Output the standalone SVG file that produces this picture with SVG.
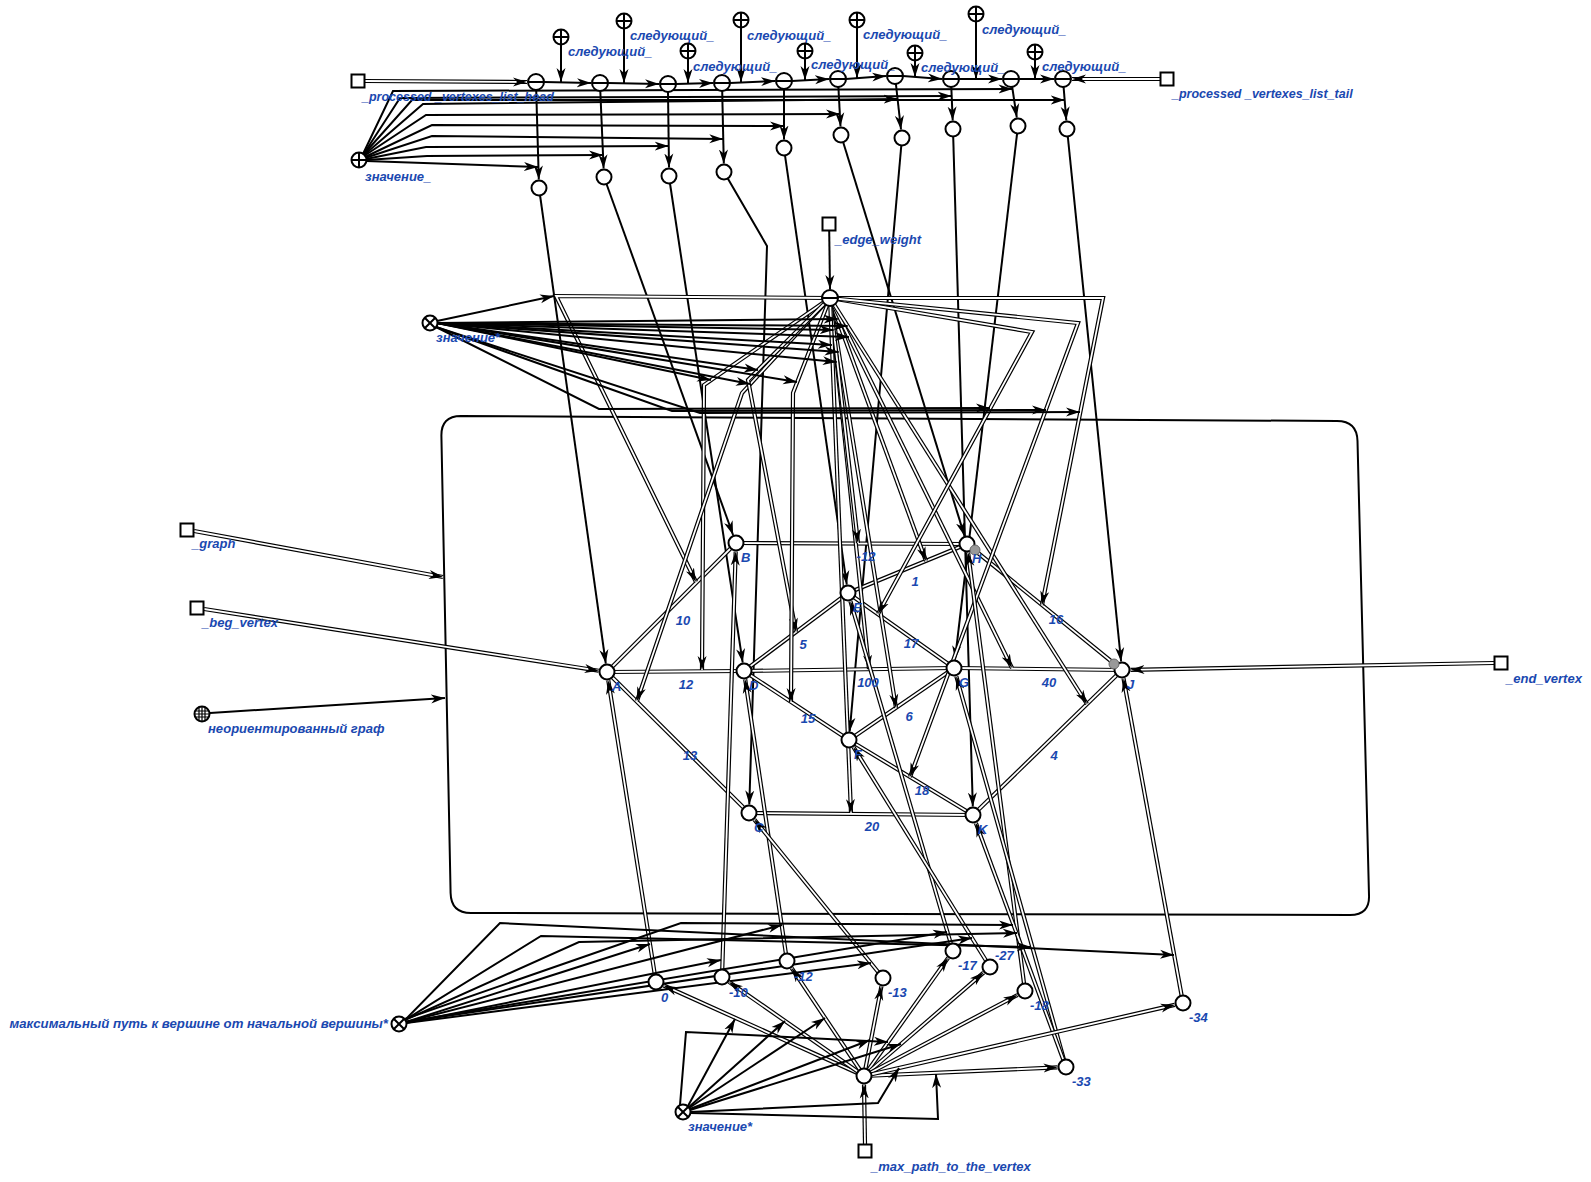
<svg xmlns="http://www.w3.org/2000/svg" width="1591" height="1182" viewBox="0 0 1591 1182">
<style>
.s{fill:none;stroke:#000;stroke-width:2}
.sa{fill:none;stroke:#000;stroke-width:2;marker-end:url(#ah)}
.do{fill:none;stroke:#000;stroke-width:4.2}
.di{fill:none;stroke:#fff;stroke-width:1.8}
.dia{fill:none;stroke:#fff;stroke-width:1.8;marker-end:url(#ah)}
.nd{fill:#fff;stroke:#000;stroke-width:2}
.ln{fill:none;stroke:#000;stroke-width:2}
.gd{fill:#999;stroke:#666;stroke-width:1}
.ct{fill:none;stroke:#000;stroke-width:2}
.t{font-family:"Liberation Sans",Arial,sans-serif;font-size:13px;font-weight:bold;font-style:italic;fill:#1a48b0}
.tm{text-anchor:middle}
.te{text-anchor:end}
</style>
<defs>
<marker id="ah" viewBox="0 0 14 10" refX="14" refY="5" markerWidth="14" markerHeight="10" markerUnits="userSpaceOnUse" orient="auto"><path d="M0,0.5L14,5L0,9.5L4,5Z" fill="#000"/></marker>
<g id="sPlus"><circle r="7.5" class="nd"/><path d="M-7.5,0H7.5M0,-7.5V7.5" class="ln"/></g>
<g id="sMinus"><circle r="8" class="nd"/><path d="M-8,0H8" class="ln"/></g>
<g id="sX"><circle r="7.5" class="nd"/><path d="M-5.3,-5.3L5.3,5.3M-5.3,5.3L5.3,-5.3" class="ln"/></g>
<g id="sSq"><rect x="-6.5" y="-6.5" width="13" height="13" class="nd"/></g>
<g id="sC"><circle r="7.5" class="nd"/></g>
<g id="sGrid"><circle r="7.5" class="nd"/><path d="M-3,-6.8V6.8M0,-7.5V7.5M3,-6.8V6.8M-6.8,-3H6.8M-7.5,0H7.5M-6.8,3H6.8" fill="none" stroke="#000" stroke-width="1.2"/></g>
</defs>
<rect width="1591" height="1182" fill="#fff"/>

<g id="contour"><path class="ct" d="M461,416L1337,421Q1357,421 1357.5,441L1369,895Q1370,915 1350,915L471,913Q451,913 450.6,893L441.4,436Q441,416 461,416Z"/></g>

<g id="connectors">
<g id="chain">
<path class="do" d="M365,81L527,82"/><path class="dia" d="M365,81L527,82"/>
<path class="do" d="M1160,79L1072,79"/><path class="dia" d="M1160,79L1072,79"/>
<path class="sa" d="M544,82L591,83"/>
<path class="sa" d="M608,83L659,84"/>
<path class="sa" d="M676,84L713,83"/>
<path class="sa" d="M730,83L775,81"/>
<path class="sa" d="M792,81L829,79"/>
<path class="sa" d="M846,79L886,76"/>
<path class="sa" d="M903,76L942,79"/>
<path class="sa" d="M959,79L1002,79"/>
<path class="sa" d="M1019,79L1054,79"/>
<path class="sa" d="M561,45L561,82"/>
<path class="sa" d="M624,29L624,83"/>
<path class="sa" d="M688,59L688,83"/>
<path class="sa" d="M741,28L741,82"/>
<path class="sa" d="M805,59L805,80"/>
<path class="sa" d="M857,28L857,78"/>
<path class="sa" d="M915,61L915,77"/>
<path class="sa" d="M976,22L976,79"/>
<path class="sa" d="M1035,60L1035,79"/>
<path class="sa" d="M536.2,90L538.8,179.5"/>
<path class="sa" d="M600.3,91L603.6,168.5"/>
<path class="sa" d="M668,92L669,167.5"/>
<path class="sa" d="M722.2,91L723.8,163.5"/>
<path class="sa" d="M784,89L784,139.5"/>
<path class="sa" d="M838.4,87L840.5,126.5"/>
<path class="sa" d="M895.9,84L901,129.5"/>
<path class="sa" d="M951.3,87L952.7,120.5"/>
<path class="sa" d="M1012.2,87L1016.8,117.6"/>
<path class="sa" d="M1063.6,87L1066.3,120.5"/>
</g>
<g id="value-arrows">
<path class="sa" d="M366,161L538,167"/>
<path class="sa" d="M366,160L427,156L603,155"/>
<path class="sa" d="M366,159L426,147L668.7,146"/>
<path class="sa" d="M365,158L432,136L723.3,139"/>
<path class="sa" d="M365,157L432,125L784,126"/>
<path class="sa" d="M364,156L426,115L840,114"/>
<path class="sa" d="M364,155L423,104L897.6,99"/>
<path class="sa" d="M363,155L400,98L951.7,96"/>
<path class="sa" d="M363,154L393,91L1012.5,89"/>
<path class="sa" d="M363,155L412,100L1064.7,100"/>
</g>
<g id="to-vertices">
<path class="sa" d="M540,195L605.8,663.6"/>
<path class="sa" d="M606.5,184L733.1,535"/>
<path class="sa" d="M670,183.5L742.7,662.6"/>
<path class="sa" d="M727.8,178.5L767,246L749.3,804.5"/>
<path class="sa" d="M785,155.4L846.8,584.6"/>
<path class="sa" d="M843.2,142.2L964.5,535.9"/>
<path class="sa" d="M901.3,145.5L849.7,731.5"/>
<path class="sa" d="M953.2,136.5L972.8,806.5"/>
<path class="sa" d="M1017.1,133.4L955,659.6"/>
<path class="sa" d="M1067.8,136.5L1121.1,661.5"/>
</g>
<path class="sa" d="M829.2,231L830,289"/>
<g id="edges">
<path class="do" d="M607,672L736,543"/><path class="di" d="M607,672L736,543"/>
<path class="do" d="M607,672L744,671"/><path class="di" d="M607,672L744,671"/>
<path class="do" d="M607,672L749,813"/><path class="di" d="M607,672L749,813"/>
<path class="do" d="M736,543L967,544"/><path class="di" d="M736,543L967,544"/>
<path class="do" d="M744,671L848,593"/><path class="di" d="M744,671L848,593"/>
<path class="do" d="M744,671L954,668"/><path class="di" d="M744,671L954,668"/>
<path class="do" d="M744,671L849,740"/><path class="di" d="M744,671L849,740"/>
<path class="do" d="M848,593L967,544"/><path class="di" d="M848,593L967,544"/>
<path class="do" d="M848,593L954,668"/><path class="di" d="M848,593L954,668"/>
<path class="do" d="M954,668L1122,670"/><path class="di" d="M954,668L1122,670"/>
<path class="do" d="M967,544L1122,670"/><path class="di" d="M967,544L1122,670"/>
<path class="do" d="M849,740L954,668"/><path class="di" d="M849,740L954,668"/>
<path class="do" d="M849,740L973,815"/><path class="di" d="M849,740L973,815"/>
<path class="do" d="M749,813L973,815"/><path class="di" d="M749,813L973,815"/>
<path class="do" d="M1122,670L973,815"/><path class="di" d="M1122,670L973,815"/>
</g>
<g id="weight-arcs">
<path class="do" d="M830,298L556,296L696,582"/><path class="dia" d="M830,298L556,296L696,582"/>
<path class="do" d="M830,298L704,385L702,670"/><path class="dia" d="M830,298L704,385L702,670"/>
<path class="do" d="M830,298L742,393L637,701"/><path class="dia" d="M830,298L742,393L637,701"/>
<path class="do" d="M830,298L748,380L796,632"/><path class="dia" d="M830,298L748,380L796,632"/>
<path class="do" d="M830,298L793,393L791,702"/><path class="dia" d="M830,298L793,393L791,702"/>
<path class="do" d="M830,298L869,669"/><path class="dia" d="M830,298L869,669"/>
<path class="do" d="M830,298L896,708"/><path class="dia" d="M830,298L896,708"/>
<path class="do" d="M830,298L926,561"/><path class="dia" d="M830,298L926,561"/>
<path class="do" d="M830,298L858,543"/><path class="dia" d="M830,298L858,543"/>
<path class="do" d="M830,298L851,813"/><path class="dia" d="M830,298L851,813"/>
<path class="do" d="M830,298L1012,668"/><path class="dia" d="M830,298L1012,668"/>
<path class="do" d="M830,298L1087,704"/><path class="dia" d="M830,298L1087,704"/>
<path class="do" d="M830,298L1103,298L1042,605"/><path class="dia" d="M830,298L1103,298L1042,605"/>
<path class="do" d="M830,298L1032,332L878,614"/><path class="dia" d="M830,298L1032,332L878,614"/>
<path class="do" d="M830,298L1078,323L910,777"/><path class="dia" d="M830,298L1078,323L910,777"/>
</g>
<g id="weight-value-arrows">
<path class="sa" d="M437,321L554,296"/>
<path class="sa" d="M437,323L711,380"/>
<path class="sa" d="M437,323L750,384"/>
<path class="sa" d="M437,323L758,370"/>
<path class="sa" d="M437,323L797,382"/>
<path class="sa" d="M437,323L836.7,362"/>
<path class="sa" d="M437,323L838.7,352"/>
<path class="sa" d="M437,323L837.7,319"/>
<path class="sa" d="M437,323L833.6,330"/>
<path class="sa" d="M437,323L831.9,345"/>
<path class="sa" d="M437,323L849,337"/>
<path class="sa" d="M437,323L847.7,326"/>
<path class="sa" d="M436,327L599,409L990,408"/>
<path class="sa" d="M436,327L672,411L1046,410"/>
<path class="sa" d="M436,327L700,413L1080,412"/>
</g>
<g id="inputs">
<path class="do" d="M194,531L443,577"/><path class="dia" d="M194,531L443,577"/>
<path class="do" d="M204,609L598.6,670.7"/><path class="dia" d="M204,609L598.6,670.7"/>
<path class="sa" d="M210,713L445,698"/>
<path class="do" d="M1494,663L1130.5,669.8"/><path class="dia" d="M1494,663L1130.5,669.8"/>
</g>
<g id="value-vertex-arcs">
<path class="do" d="M656,982L608.3,680.4"/><path class="dia" d="M656,982L608.3,680.4"/>
<path class="do" d="M722,977L735.7,551.5"/><path class="dia" d="M722,977L735.7,551.5"/>
<path class="do" d="M787,961L745.2,679.4"/><path class="dia" d="M787,961L745.2,679.4"/>
<path class="do" d="M883,978L754.4,819.6"/><path class="dia" d="M883,978L754.4,819.6"/>
<path class="do" d="M953,951L850.4,601.2"/><path class="dia" d="M953,951L850.4,601.2"/>
<path class="do" d="M990,967L853.5,747.2"/><path class="dia" d="M990,967L853.5,747.2"/>
<path class="do" d="M1025,991L968.1,552.4"/><path class="dia" d="M1025,991L968.1,552.4"/>
<path class="do" d="M1066,1067L956.3,676.2"/><path class="dia" d="M1066,1067L956.3,676.2"/>
<path class="do" d="M1066,1067L975.9,823"/><path class="dia" d="M1066,1067L975.9,823"/>
<path class="do" d="M1183,1003L1123.5,678.4"/><path class="dia" d="M1183,1003L1123.5,678.4"/>
</g>
<g id="max-path-arrows">
<path class="sa" d="M405,1019L681,923L1013,925"/>
<path class="sa" d="M405,1020L579,942L1017,933"/>
<path class="sa" d="M405,1020L541,936L1031,947"/>
<path class="sa" d="M405,1020L500,923L1174,955"/>
<path class="sa" d="M406,1022L947,932"/>
<path class="sa" d="M406,1022L972,938"/>
<path class="sa" d="M406,1022L782,925"/>
<path class="sa" d="M406,1023L721,960"/>
<path class="sa" d="M406,1023L871,963"/>
<path class="sa" d="M406,1022L650,944"/>
</g>
<g id="center-arcs">
<path class="do" d="M864,1076L663.7,985.5"/><path class="dia" d="M864,1076L663.7,985.5"/>
<path class="do" d="M864,1076L729,981.9"/><path class="dia" d="M864,1076L729,981.9"/>
<path class="do" d="M864,1076L791.7,968.1"/><path class="dia" d="M864,1076L791.7,968.1"/>
<path class="do" d="M864,1076L881.4,986.3"/><path class="dia" d="M864,1076L881.4,986.3"/>
<path class="do" d="M864,1076L948.1,957.9"/><path class="dia" d="M864,1076L948.1,957.9"/>
<path class="do" d="M864,1076L983.6,972.6"/><path class="dia" d="M864,1076L983.6,972.6"/>
<path class="do" d="M864,1076L1017.5,995"/><path class="dia" d="M864,1076L1017.5,995"/>
<path class="do" d="M864,1076L1057.5,1067.4"/><path class="dia" d="M864,1076L1057.5,1067.4"/>
<path class="do" d="M864,1076L1174.7,1004.9"/><path class="dia" d="M864,1076L1174.7,1004.9"/>
<path class="do" d="M865,1144L864,1084.5"/><path class="dia" d="M865,1144L864,1084.5"/>
</g>
<g id="center-value-arrows">
<path class="sa" d="M688,1106L735,1019"/>
<path class="sa" d="M689,1107L785,1021"/>
<path class="sa" d="M689,1108L825,1018"/>
<path class="sa" d="M690,1109L870,1040"/>
<path class="sa" d="M680,1105L686,1032L888,1042"/>
<path class="sa" d="M690,1110L901,1044"/>
<path class="sa" d="M690,1112L878,1103L899,1068"/>
<path class="sa" d="M690,1113L938,1119L936,1074"/>
</g>
</g>

<g id="nodes">
<g id="n-head"><use href="#sSq" x="358" y="81"/><text class="t" x="362" y="101" style="font-size:12.5px">_processed _vertexes_list_head</text></g>
<g id="n-tail"><use href="#sSq" x="1167" y="79"/><text class="t" x="1172" y="98" style="font-size:12.5px">_processed _vertexes_list_tail</text></g>
<g id="n-m1"><use href="#sMinus" x="536" y="82"/></g>
<g id="n-m2"><use href="#sMinus" x="600" y="83"/></g>
<g id="n-m3"><use href="#sMinus" x="668" y="84"/></g>
<g id="n-m4"><use href="#sMinus" x="722" y="83"/></g>
<g id="n-m5"><use href="#sMinus" x="784" y="81"/></g>
<g id="n-m6"><use href="#sMinus" x="838" y="79"/></g>
<g id="n-m7"><use href="#sMinus" x="895" y="76"/></g>
<g id="n-m8"><use href="#sMinus" x="951" y="79"/></g>
<g id="n-m9"><use href="#sMinus" x="1011" y="79"/></g>
<g id="n-m10"><use href="#sMinus" x="1063" y="79"/></g>
<g id="n-p1"><use href="#sPlus" x="561" y="37"/><text class="t" x="568" y="56">следующий_</text></g>
<g id="n-p2"><use href="#sPlus" x="624" y="21"/><text class="t" x="630" y="40">следующий_</text></g>
<g id="n-p3"><use href="#sPlus" x="688" y="51"/><text class="t" x="693" y="71">следующий_</text></g>
<g id="n-p4"><use href="#sPlus" x="741" y="20"/><text class="t" x="747" y="40">следующий_</text></g>
<g id="n-p5"><use href="#sPlus" x="805" y="51"/><text class="t" x="811" y="69">следующий_</text></g>
<g id="n-p6"><use href="#sPlus" x="857" y="20"/><text class="t" x="863" y="39">следующий_</text></g>
<g id="n-p7"><use href="#sPlus" x="915" y="53"/><text class="t" x="921" y="72">следующий_</text></g>
<g id="n-p8"><use href="#sPlus" x="976" y="14"/><text class="t" x="982" y="34">следующий_</text></g>
<g id="n-p9"><use href="#sPlus" x="1035" y="52"/><text class="t" x="1042" y="71">следующий_</text></g>
<g id="n-v1"><use href="#sC" x="539" y="188"/></g>
<g id="n-v2"><use href="#sC" x="604" y="177"/></g>
<g id="n-v3"><use href="#sC" x="669" y="176"/></g>
<g id="n-v4"><use href="#sC" x="724" y="172"/></g>
<g id="n-v5"><use href="#sC" x="784" y="148"/></g>
<g id="n-v6"><use href="#sC" x="841" y="135"/></g>
<g id="n-v7"><use href="#sC" x="902" y="138"/></g>
<g id="n-v8"><use href="#sC" x="953" y="129"/></g>
<g id="n-v9"><use href="#sC" x="1018" y="126"/></g>
<g id="n-v10"><use href="#sC" x="1067" y="129"/></g>
<g id="n-znach1"><use href="#sPlus" x="359" y="160"/><text class="t" x="365" y="181">значение_</text></g>
<g id="n-ew-sq"><use href="#sSq" x="829" y="224"/><text class="t" x="835" y="244">_edge_weight</text></g>
<g id="n-ew"><use href="#sMinus" x="830" y="298"/></g>
<g id="n-znach2"><use href="#sX" x="430" y="323"/><text class="t" x="436" y="342">значение*</text></g>
<g id="n-graph"><use href="#sSq" x="187" y="530"/><text class="t" x="192" y="548">_graph</text></g>
<g id="n-beg"><use href="#sSq" x="197" y="608"/><text class="t" x="202" y="627">_beg_vertex</text></g>
<g id="n-class"><use href="#sGrid" x="202" y="714"/><text class="t" x="208" y="733">неориентированный граф</text></g>
<g id="n-end"><use href="#sSq" x="1501" y="663"/><text class="t" x="1506" y="683">_end_vertex</text></g>
<g id="n-A"><use href="#sC" x="607" y="672"/><text class="t" x="612" y="691">A</text></g>
<g id="n-B"><use href="#sC" x="736" y="543"/><text class="t" x="741" y="562">B</text></g>
<g id="n-D"><use href="#sC" x="744" y="671"/><text class="t" x="749" y="690">D</text></g>
<g id="n-E"><use href="#sC" x="848" y="593"/><text class="t" x="853" y="612">E</text></g>
<g id="n-H"><use href="#sC" x="967" y="544"/><circle class="gd" cx="975" cy="550" r="5"/><text class="t" x="972" y="563">H</text></g>
<g id="n-G"><use href="#sC" x="954" y="668"/><text class="t" x="959" y="687">G</text></g>
<g id="n-J"><use href="#sC" x="1122" y="670"/><circle class="gd" cx="1114" cy="664" r="5"/><text class="t" x="1127" y="689">J</text></g>
<g id="n-F"><use href="#sC" x="849" y="740"/><text class="t" x="854" y="759">F</text></g>
<g id="n-C"><use href="#sC" x="749" y="813"/><text class="t" x="754" y="832">C</text></g>
<g id="n-K"><use href="#sC" x="973" y="815"/><text class="t" x="978" y="834">K</text></g>
<g id="weights">
<text class="t tm" x="683" y="625">10</text>
<text class="t tm" x="866" y="561">-12</text>
<text class="t tm" x="915" y="586">1</text>
<text class="t tm" x="803" y="649">5</text>
<text class="t tm" x="911" y="648">17</text>
<text class="t tm" x="686" y="689">12</text>
<text class="t tm" x="868" y="687">100</text>
<text class="t tm" x="1049" y="687">40</text>
<text class="t tm" x="1056" y="624">16</text>
<text class="t tm" x="808" y="723">15</text>
<text class="t tm" x="909" y="721">6</text>
<text class="t tm" x="690" y="760">13</text>
<text class="t tm" x="1054" y="760">4</text>
<text class="t tm" x="922" y="795">18</text>
<text class="t tm" x="872" y="831">20</text>
</g>
<g id="n-0"><use href="#sC" x="656" y="982"/><text class="t" x="661" y="1002">0</text></g>
<g id="n-10"><use href="#sC" x="722" y="977"/><text class="t" x="729" y="997">-10</text></g>
<g id="n-12"><use href="#sC" x="787" y="961"/><text class="t" x="794" y="981">-12</text></g>
<g id="n-13"><use href="#sC" x="883" y="978"/><text class="t" x="888" y="997">-13</text></g>
<g id="n-17"><use href="#sC" x="953" y="951"/><text class="t" x="958" y="970">-17</text></g>
<g id="n-27"><use href="#sC" x="990" y="967"/><text class="t" x="995" y="960">-27</text></g>
<g id="n-18"><use href="#sC" x="1025" y="991"/><text class="t" x="1030" y="1010">-18</text></g>
<g id="n-33"><use href="#sC" x="1066" y="1067"/><text class="t" x="1072" y="1086">-33</text></g>
<g id="n-34"><use href="#sC" x="1183" y="1003"/><text class="t" x="1189" y="1022">-34</text></g>
<g id="n-center"><use href="#sC" x="864" y="1076"/></g>
<g id="n-maxsq"><use href="#sSq" x="865" y="1151"/><text class="t" x="871" y="1171">_max_path_to_the_vertex</text></g>
<g id="n-znach3"><use href="#sX" x="683" y="1112"/><text class="t" x="688" y="1131">значение*</text></g>
<g id="n-maxpath"><use href="#sX" x="399" y="1024"/><text class="t te" x="388" y="1028" style="font-size:13.2px">максимальный путь к вершине от начальной вершины*</text></g>
</g>
</svg>
